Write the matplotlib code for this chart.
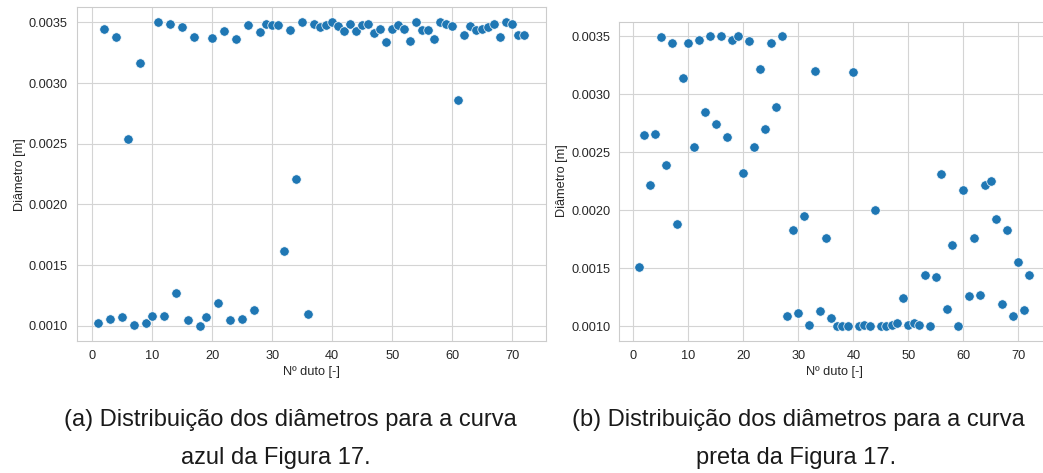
import matplotlib
matplotlib.use("Agg")
import matplotlib.pyplot as plt
import seaborn as sns
import numpy as np

# duct numbers 1..72
ducts = list(range(1, 73))

# diameters for the blue curve (a)
diam_azul = [0.00102, 0.003445, 0.00106, 0.00338, 0.00107, 0.00254, 0.00101, 0.00317,
             0.00102, 0.00108, 0.00350, 0.00108, 0.00349, 0.00127, 0.00346, 0.00105,
             0.00338, 0.00100, 0.00107, 0.00337, 0.00119, 0.00343, 0.00105, 0.00336,
             0.00106, 0.00348, 0.00113, 0.00342, 0.00349, 0.00348, 0.00348, 0.00162,
             0.00344, 0.00221, 0.00350, 0.00110, 0.00349, 0.00346, 0.00348, 0.00350,
             0.00347, 0.00343, 0.00349, 0.00343, 0.00348, 0.00349, 0.00341, 0.00345,
             0.00334, 0.00345, 0.00348, 0.00345, 0.00335, 0.00350, 0.00344, 0.00344,
             0.00336, 0.00350, 0.00349, 0.00347, 0.00286, 0.00340, 0.00347, 0.00344,
             0.00345, 0.00346, 0.00349, 0.00338, 0.00350, 0.00349, 0.00340, 0.00340]

# diameters for the black curve (b)
diam_preta = [0.00151, 0.00265, 0.00222, 0.00266, 0.00349, 0.00239, 0.00344, 0.00188,
              0.00314, 0.00344, 0.00254, 0.00347, 0.00285, 0.00350, 0.00274, 0.00350,
              0.00263, 0.00347, 0.00350, 0.00232, 0.00346, 0.00254, 0.00322, 0.00270,
              0.00344, 0.00289, 0.00350, 0.00109, 0.00183, 0.00111, 0.00195, 0.00101,
              0.00320, 0.00113, 0.00176, 0.00107, 0.00100, 0.00100, 0.00100, 0.00319,
              0.00100, 0.00101, 0.00100, 0.00200, 0.00100, 0.00100, 0.00101, 0.00103,
              0.00124, 0.00101, 0.00103, 0.00101, 0.00144, 0.00100, 0.00142, 0.00231,
              0.00115, 0.00170, 0.00100, 0.00217, 0.00126, 0.00176, 0.00127, 0.00222,
              0.00225, 0.00192, 0.00119, 0.00183, 0.00109, 0.00155, 0.00114, 0.00144]

captions = [["(a) Distribuição dos diâmetros para a curva", "azul da Figura 17."],
            ["(b) Distribuição dos diâmetros para a curva", "preta da Figura 17."]]

sns.set_style("whitegrid")
plt.rcParams['font.family'] = ['Liberation Sans', 'DejaVu Sans']

W, H = 1043, 473
fig = plt.figure(figsize=(W/100, H/100), dpi=100)

def px_axes(left, top, right, bottom):
    return fig.add_axes([left/W, 1 - bottom/H, (right-left)/W, (bottom-top)/H])

ax1 = px_axes(76.7, 7.3, 545.6, 341)
ax2 = px_axes(619.3, 21.7, 1049, 340.5)

for ax, d in [(ax1, diam_azul), (ax2, diam_preta)]:
    ax.scatter(ducts, d, s=46, color='#1f77b4', edgecolor='white', linewidth=0.5, zorder=3)
    ax.set_xticks(np.arange(0, 71, 10))
    ax.set_yticks(np.arange(0.0010, 0.00351, 0.0005))
    ax.yaxis.set_major_formatter(matplotlib.ticker.FormatStrFormatter('%.4f'))
    ax.tick_params(labelsize=9.2, colors='#262626', pad=3)
    ax.set_xlabel('Nº duto [-]', fontsize=9.2, labelpad=3)
    ax.set_ylabel('Diâmetro [m]', fontsize=9.2, labelpad=2)
    for s in ax.spines.values():
        s.set_color('#cccccc')
    ax.grid(color='#d4d4d4', linewidth=0.8)

# captions below each panel
cap_kw = dict(ha='center', va='center', fontsize=17, color='#1a1a1a')
fig.text(290/W, 1 - 420/H, captions[0][0], **cap_kw)
fig.text(276/W, 1 - 458/H, captions[0][1], **cap_kw)
fig.text(798/W, 1 - 420/H, captions[1][0], **cap_kw)
fig.text(796/W, 1 - 458/H, captions[1][1], **cap_kw)

fig.savefig('out.png', dpi=100)
